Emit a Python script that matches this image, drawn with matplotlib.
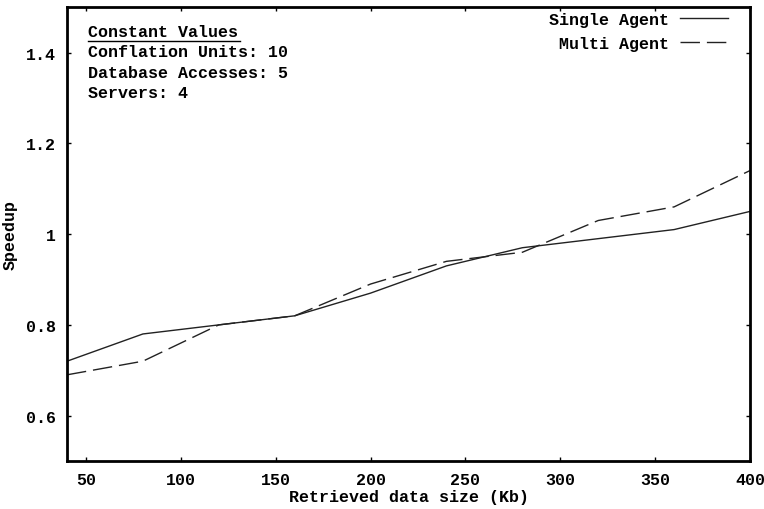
import numpy as np
import matplotlib.pyplot as plt

data_size = [40, 80, 120, 160, 200, 240, 280, 320, 360, 400]
single_agent = [0.72, 0.78, 0.80, 0.82, 0.87, 0.93, 0.97, 0.99, 1.01, 1.05]
multi_agent = [0.69, 0.72, 0.80, 0.82, 0.89, 0.94, 0.96, 1.03, 1.06, 1.14]

x_ticks = [50, 100, 150, 200, 250, 300, 350, 400]
y_ticks = [0.6, 0.8, 1.0, 1.2, 1.4]
y_labels = ['0.6', '0.8', '1', '1.2', '1.4']

constants = ['Conflation Units: 10', 'Database Accesses: 5', 'Servers: 4']

plt.rcParams['font.family'] = ['Liberation Mono', 'DejaVu Sans Mono']
plt.rcParams['font.weight'] = 'bold'

fig = plt.figure(figsize=(7.64, 5.10), dpi=100)
ax = fig.add_axes([0.0877, 0.094, 0.894, 0.890])

ax.plot(data_size, single_agent, color='#222222', lw=1.0, label='Single Agent')
ax.plot(data_size, multi_agent, color='#222222', lw=1.0, dashes=(14, 5), label='Multi Agent')

ax.set_xlim(40, 400)
ax.set_ylim(0.5, 1.5)
ax.set_xticks(x_ticks)
ax.set_yticks(y_ticks)
ax.set_yticklabels(y_labels)
ax.tick_params(direction='in', length=3, width=1, labelsize=12,
               top=True, right=True, pad=8)
for s in ax.spines.values():
    s.set_linewidth(2)

ax.set_xlabel('Retrieved data size (Kb)', fontsize=12, fontweight='bold', labelpad=1)
ax.set_ylabel('Speedup', fontsize=12, fontweight='bold', labelpad=6)

# constant values box
ax.text(0.031, 0.947, 'Constant Values', transform=ax.transAxes, fontsize=12,
        fontweight='bold', va='center')
ax.plot([0.031, 0.254], [0.925, 0.925], transform=ax.transAxes, color='black', lw=1)
for i, line in enumerate(constants):
    ax.text(0.031, 0.902 - i * 0.045, line, transform=ax.transAxes, fontsize=12,
            fontweight='bold', va='center')

leg = ax.legend(loc='upper right', bbox_to_anchor=(0.968, 0.99), frameon=False,
                markerfirst=False, fontsize=12, handlelength=2.9,
                handletextpad=0.65, borderaxespad=0, borderpad=0,
                labelspacing=0.55)

fig.savefig('out.png', dpi=100)
